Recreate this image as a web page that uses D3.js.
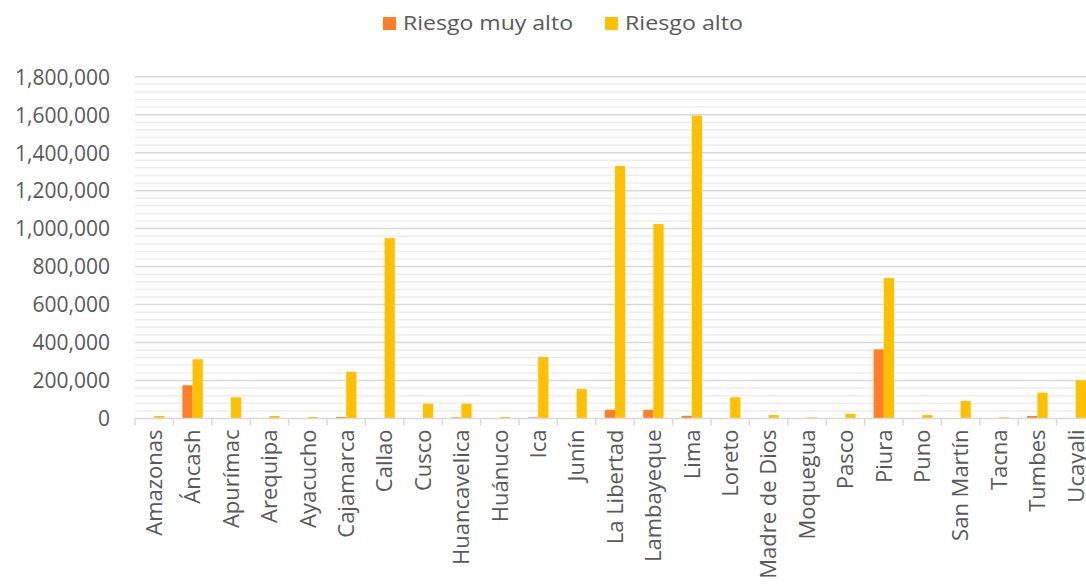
<!DOCTYPE html>
<html>
<head>
<meta charset="utf-8">
<script src="https://cdn.jsdelivr.net/npm/d3@7"></script>
<style>
html,body{margin:0;padding:0;background:#fff;overflow:hidden;}
svg{display:block;}
text{font-family:"Open Sans",sans-serif;fill:#595959;}
</style>
</head>
<body>
<svg id="chart" width="1086" height="587"></svg>
<script>
const categories = ["Amazonas","Áncash","Apurímac","Arequipa","Ayacucho","Cajamarca","Callao","Cusco","Huancavelica","Huánuco","Ica","Junín","La Libertad","Lambayeque","Lima","Loreto","Madre de Dios","Moquegua","Pasco","Piura","Puno","San Martín","Tacna","Tumbes","Ucayali"];
const seriesNames = ["Riesgo muy alto","Riesgo alto"];
const riesgoMuyAlto = [2000,175000,0,0,0,8000,0,0,6000,0,6000,0,46000,46000,14000,0,0,0,0,364000,0,0,0,13000,0];
const riesgoAlto = [13000,312000,112000,13000,8000,246000,950000,78000,78000,8000,324000,155000,1330000,1024000,1595000,112000,18000,6000,25000,740000,18000,92000,6000,136000,201000];
const yTicks = [0,200000,400000,600000,800000,1000000,1200000,1400000,1600000,1800000];
const colors = ["#FF7F27","#FFC000"];

const svg = d3.select("#chart");
const mLeft = 135, mRight = 1095, mTop = 76.7, mBottom = 418.5;

const x = d3.scaleBand().domain(categories).range([mLeft, mRight]).paddingInner(0).paddingOuter(0);
const x1 = d3.scaleBand().domain(seriesNames).range([0, x.bandwidth()]).paddingInner(0).paddingOuter(0.88);
const y = d3.scaleLinear().domain([0, 1800000]).range([mBottom, mTop]);

// minor gridlines
const minor = d3.range(0, 1800001, 40000).filter(v => v % 200000 !== 0);
svg.append("g").selectAll("line").data(minor).join("line")
  .attr("x1", mLeft).attr("x2", mRight)
  .attr("y1", d => y(d)).attr("y2", d => y(d))
  .attr("stroke", "#ededed").attr("stroke-width", 1.5);

// major gridlines
svg.append("g").selectAll("line").data(yTicks.filter(v => v > 0)).join("line")
  .attr("x1", mLeft).attr("x2", mRight)
  .attr("y1", d => y(d)).attr("y2", d => y(d))
  .attr("stroke", "#d9d9d9").attr("stroke-width", 1.5);

// y axis labels
const yAxis = d3.axisLeft(y).tickValues(yTicks).tickSize(0).tickPadding(0)
  .tickFormat(d3.format(","));
const gy = svg.append("g").attr("transform", `translate(${mLeft - 25},0)`).call(yAxis);
gy.select(".domain").remove();
gy.selectAll("text").attr("font-size", 21).style("font-family", '"Open Sans",sans-serif').attr("fill", "#595959").attr("dy", "0.35em");

// bars
const data = categories.map((c, i) => ({cat: c, vals: [riesgoMuyAlto[i], riesgoAlto[i]]}));
const groups = svg.append("g").selectAll("g").data(data).join("g")
  .attr("transform", d => `translate(${x(d.cat)},0)`);
groups.selectAll("rect").data(d => d.vals.map((v, k) => ({s: seriesNames[k], v, k}))).join("rect")
  .attr("x", d => x1(d.s))
  .attr("width", x1.bandwidth())
  .attr("y", d => y(d.v))
  .attr("height", d => mBottom - y(d.v))
  .attr("fill", d => colors[d.k]);

// x axis
const boundaries = categories.map(c => x(c)).concat([mRight]);
svg.append("line").attr("x1", mLeft).attr("x2", mRight).attr("y1", mBottom).attr("y2", mBottom)
  .attr("stroke", "#d9d9d9").attr("stroke-width", 1.5);
svg.append("g").selectAll("line").data(boundaries).join("line")
  .attr("x1", d => d).attr("x2", d => d).attr("y1", mBottom).attr("y2", mBottom + 7)
  .attr("stroke", "#d9d9d9").attr("stroke-width", 1.5);

const xAxis = d3.axisBottom(x).tickSize(0).tickPadding(0);
const gx = svg.append("g").attr("transform", `translate(0,${mBottom + 11})`).call(xAxis);
gx.select(".domain").remove();
gx.selectAll("text")
  .attr("font-size", 22).style("font-family", '"Open Sans",sans-serif').attr("fill", "#595959")
  .attr("transform", "rotate(-90)")
  .attr("text-anchor", "end")
  .attr("x", 0).attr("y", 0).attr("dy", "0.35em");

// legend
const legend = svg.append("g");
const legendItems = [
  {name: seriesNames[0], c: colors[0], x: 383, len: 170},
  {name: seriesNames[1], c: colors[1], x: 605, len: 118}
];
legendItems.forEach(it => {
  legend.append("rect").attr("x", it.x).attr("y", 17).attr("width", 13).attr("height", 13).attr("fill", it.c);
  legend.append("text").attr("x", it.x + 20).attr("y", 30).attr("font-size", 20)
    .attr("textLength", it.len).attr("lengthAdjust", "spacingAndGlyphs").text(it.name);
});
</script>
</body>
</html>
